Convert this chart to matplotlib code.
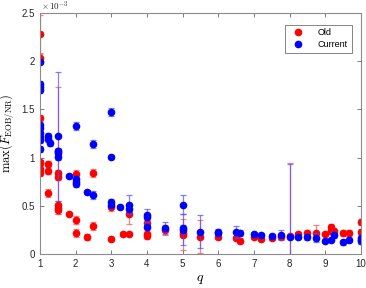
import numpy as np
import matplotlib
matplotlib.use('Agg')
import matplotlib.pyplot as plt

plt.rcParams['font.family'] = ['Liberation Sans', 'DejaVu Sans']
plt.rcParams['mathtext.fontset'] = 'cm'

# values in units of 1e-3
q_old = [1.0, 1.0, 1.0, 1.0, 1.0, 1.0, 1.0,
         1.22, 1.22, 1.22,
         1.5, 1.5, 1.5, 1.5, 1.5, 1.5,
         1.83, 2.0, 2.0, 2.0, 2.33, 2.5, 2.5, 3.0, 3.0, 3.33, 3.5, 3.5,
         4.0, 4.0, 4.0, 4.5, 5.0, 5.0, 5.5, 6.0, 6.5, 6.6, 7.0, 7.2, 7.5,
         7.75, 8.0, 8.25, 8.5, 8.75, 9.0, 9.17, 9.17, 9.25, 9.5, 9.67,
         10.0, 10.0]
f_old = [2.28, 2.03, 1.41, 0.95, 0.94, 0.88, 0.84,
         0.93, 0.86, 0.63,
         1.07, 0.84, 0.80, 0.51, 0.48, 0.46,
         0.42, 0.83, 0.35, 0.22, 0.18, 0.84, 0.29, 0.49, 0.16, 0.21, 0.41, 0.21,
         0.32, 0.21, 0.19, 0.25, 0.20, 0.22, 0.18, 0.18, 0.17, 0.14, 0.18, 0.16, 0.17,
         0.18, 0.19, 0.21, 0.22, 0.22, 0.21, 0.28, 0.24, 0.24, 0.22, 0.22,
         0.33, 0.23]
e_old = [0.20, 0.04, 0.03, 0.03, 0.03, 0.03, 0.03,
         0.03, 0.03, 0.04,
         0.66, 0.03, 0.03, 0.04, 0.04, 0.05,
         0.02, 0.04, 0.04, 0.04, 0.03, 0.04, 0.04, 0.04, 0.02, 0.02, 0.10, 0.02,
         0.03, 0.03, 0.03, 0.05, 0.16, 0.03, 0.17, 0.02, 0.02, 0.03, 0.02, 0.02, 0.02,
         0.02, 0.75, 0.02, 0.03, 0.08, 0.02, 0.03, 0.03, 0.02, 0.03, 0.03,
         0.03, 0.03]

q_cur = [1.0, 1.0, 1.0, 1.0, 1.0, 1.0, 1.0, 1.0, 1.0, 1.0,
         1.22, 1.22, 1.27,
         1.5, 1.5, 1.5, 1.5,
         1.83, 2.0, 2.0, 2.0, 2.0, 2.33, 2.5, 2.5,
         3.0, 3.0, 3.0, 3.0, 3.25, 3.5, 3.5,
         4.0, 4.0, 4.0, 4.5, 5.0, 5.0, 5.0, 5.5, 6.0, 6.0, 6.5, 6.6,
         7.0, 7.2, 7.5, 7.75, 8.0, 8.25, 8.5, 8.75, 9.0, 9.17, 9.25,
         9.5, 9.67, 10.0, 10.0, 10.0]
f_cur = [1.99, 1.76, 1.73, 1.70, 1.34, 1.31, 1.25, 1.21, 1.18, 1.09,
         1.22, 1.19, 1.15,
         1.22, 1.07, 1.05, 1.01,
         0.81, 1.33, 0.78, 0.75, 0.73, 0.64, 1.14, 0.61,
         1.47, 1.01, 0.54, 0.51, 0.49, 0.51, 0.47,
         0.40, 0.38, 0.28, 0.27, 0.51, 0.27, 0.25, 0.23, 0.23, 0.22, 0.23, 0.22,
         0.21, 0.20, 0.19, 0.20, 0.18, 0.18, 0.18, 0.17, 0.14, 0.15, 0.20,
         0.12, 0.15, 0.17, 0.13, 0.15]
e_cur = [0.02, 0.03, 0.03, 0.03, 0.03, 0.03, 0.03, 0.03, 0.03, 0.03,
         0.03, 0.03, 0.03,
         0.67, 0.03, 0.03, 0.03,
         0.02, 0.04, 0.03, 0.03, 0.03, 0.02, 0.04, 0.04,
         0.04, 0.02, 0.03, 0.03, 0.02, 0.10, 0.03,
         0.07, 0.03, 0.03, 0.06, 0.10, 0.03, 0.16, 0.17, 0.03, 0.03, 0.06, 0.03,
         0.02, 0.02, 0.02, 0.05, 0.75, 0.02, 0.03, 0.05, 0.02, 0.02, 0.03,
         0.03, 0.03, 0.03, 0.03, 0.03]

fig = plt.figure(figsize=(3.66, 2.88), dpi=100)
ax = fig.add_axes([0.109, 0.118, 0.877, 0.837])

ax.errorbar(q_old, f_old, yerr=e_old, fmt='none', ecolor=(1, 0.3, 0.3),
            elinewidth=0.9, capsize=2.5, capthick=0.9, alpha=0.7)
ax.plot(q_old, f_old, 'o', color='red', markersize=4.5, label='Old')
ax.errorbar(q_cur, f_cur, yerr=e_cur, fmt='none', ecolor=(0.3, 0.3, 1),
            elinewidth=0.9, capsize=2.5, capthick=0.9, alpha=0.7)
ax.plot(q_cur, f_cur, 'o', color='blue', markersize=4.5, label='Current')

ax.set_xlim(1, 10)
ax.set_ylim(0, 2.5)
ax.set_xticks(range(1, 11))
ax.set_yticks([0, 0.5, 1, 1.5, 2, 2.5])
ax.set_yticklabels(['0', '0.5', '1', '1.5', '2', '2.5'])

gray = (0.15, 0.15, 0.15)
for s in ax.spines.values():
    s.set_color((0.55, 0.55, 0.55))
    s.set_linewidth(0.8)
ax.tick_params(direction='in', top=True, right=True, labelsize=7,
               colors=(0.4, 0.4, 0.4), labelcolor=gray, length=3, width=0.6)

ax.text(0.005, 1.0, r'$\times\,10^{-3}$', transform=ax.transAxes,
        fontsize=6.5, color=gray, ha='left', va='bottom')
ax.set_xlabel(r'$q$', fontsize=10, labelpad=2)
ax.set_ylabel(r'$\max(\bar{F}_{\rm EOB/NR})$', fontsize=9, labelpad=3)

leg = ax.legend(loc='upper right', fontsize=6.5, frameon=True, fancybox=False,
                handletextpad=1.2, borderpad=0.4, labelspacing=0.3,
                bbox_to_anchor=(0.985, 0.97))
leg.get_frame().set_edgecolor((0.3, 0.3, 0.3))
leg.get_frame().set_linewidth(0.6)

fig.savefig('out.png', dpi=100)
